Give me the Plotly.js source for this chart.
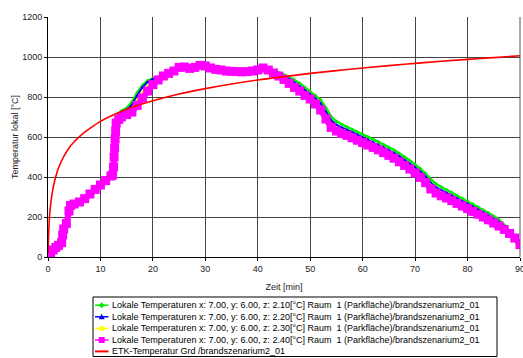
<!DOCTYPE html>
<html>
<head>
<meta charset="utf-8">
<script src="https://cdn.plot.ly/plotly-3.0.1.min.js"></script>
<style>html,body{margin:0;padding:0;background:#fff;}#chart{width:523px;height:358px;}</style>
</head>
<body>
<div id="chart"></div>
<script>
// ---- data ----
const zeit = [0,0.5,1,1.5,2,2.6,2.8,3,3.5,4,4.3,
  5,6,7,8,9,10,11,12,
  12.3,12.5,12.6,12.7,12.8,12.9,13,
  13.5,
  14,15,16,17,18,19,20,21,22,23,24,25,26,27,28,29,30,31,32,33,34,35,36,37,38,39,40,41,42,43,44,45,46,47,48,49,50,51,52,53,54,55,56,57,58,59,60,61,62,63,64,65,66,67,68,69,70,71,72,73,74,75,76,77,78,79,80,81,82,83,84,85,86,87,88,89,90];

const tempZ210 = [12,22,35,48,60,75,115,145,175,238,260,
  267,278,295,318,342,365,390,425,
  430,470,520,570,615,660,700,
  718,
  730,745,775,822,858,882,893,900,908,918,930,946,948,942,946,955,952,943,936,932,928,926,925,924,925,928,933,942,940,930,922,912,900,885,868,848,828,808,785,745,700,678,662,650,638,624,612,600,588,576,562,548,534,518,500,482,462,442,418,388,365,350,336,322,308,294,280,265,250,235,220,204,186,160,130,100,66];

const tempZ220 = [12,22,35,48,59,74,112,142,172,236,259,
  266,277,294,317,340,363,386,418,
  422,462,512,560,605,648,688,
  708,
  720,735,760,808,848,875,890,898,906,917,929,946,948,942,946,955,952,943,936,932,928,926,925,924,925,928,933,942,938,926,916,904,889,872,854,834,813,792,767,725,682,661,647,636,624,611,599,587,575,563,549,535,520,503,485,467,447,426,401,370,348,334,321,307,293,279,266,252,237,222,207,191,175,152,126,98,64];

const tempZ230 = [12,22,35,48,58,73,111,141,171,235,258,
  265,276,293,316,339,361,384,412,
  416,456,506,552,598,640,680,
  698,
  710,722,742,785,825,855,875,892,905,917,929,946,948,942,946,955,952,943,936,932,928,926,925,924,925,928,933,942,936,923,910,896,878,860,842,821,801,778,751,708,665,645,632,622,610,597,585,573,561,549,535,521,507,489,471,453,433,412,386,355,334,320,308,294,280,267,254,240,226,211,196,180,165,145,122,96,63];

const tempZ240 = [12,22,35,48,58,72,110,140,168,230,258,
  265,275,292,315,338,360,382,405,
  410,450,500,545,590,630,670,
  688,
  700,712,725,758,795,830,862,885,905,918,930,948,950,943,948,958,955,945,938,935,930,928,927,926,927,930,935,945,935,920,905,888,868,848,830,808,790,765,735,690,648,630,618,608,596,584,572,560,548,536,522,508,494,476,458,440,420,398,372,340,320,306,295,282,268,255,242,228,214,200,186,170,155,138,118,95,62];

const etkZeit = [0,0.25,0.5,1,1.5,2,3,4,5,6,7,8,10,12,15,20,25,30,35,40,45,50,55,60,65,70,75,80,85,90];
const etkTemp = [20,185,261,349,404,445,502,545,576,602,624,643,678,705,739,781,815,842,865,885,902,918,932,945,957,968,979,988,997,1006];

const xTicks = [0,10,20,30,40,50,60,70,80,90];
const yTicks = [0,200,400,600,800,1000,1200];

const legendLabels = [
  "Lokale Temperaturen x: 7.00, y: 6.00, z: 2.10[°C] Raum\u00a0 1 (Parkfläche)/brandszenarium2_01",
  "Lokale Temperaturen x: 7.00, y: 6.00, z: 2.20[°C] Raum\u00a0 1 (Parkfläche)/brandszenarium2_01",
  "Lokale Temperaturen x: 7.00, y: 6.00, z: 2.30[°C] Raum\u00a0 1 (Parkfläche)/brandszenarium2_01",
  "Lokale Temperaturen x: 7.00, y: 6.00, z: 2.40[°C] Raum\u00a0 1 (Parkfläche)/brandszenarium2_01",
  "ETK-Temperatur Grd /brandszenarium2_01"
];
const seriesColors = ["#00ee00","#0000ee","#ffff00","#ff00ff","#ff0000"];
const legendSymbols = ["diamond","triangle","circle","square","none"];

// ---- traces ----
const traces = [
  {x: zeit, y: tempZ210, mode: "lines+markers", line:{color:seriesColors[0], width:2.5}, marker:{color:seriesColors[0], size:3, symbol:"diamond"}},
  {x: zeit, y: tempZ220, mode: "lines+markers", line:{color:seriesColors[1], width:2}, marker:{color:seriesColors[1], size:3, symbol:"triangle-up"}},
  {x: zeit, y: tempZ230, mode: "lines+markers", line:{color:seriesColors[2], width:2}, marker:{color:seriesColors[2], size:3, symbol:"circle"}},
  {x: zeit, y: tempZ240, mode: "lines+markers", line:{color:seriesColors[3], width:6}, marker:{color:seriesColors[3], size:9, symbol:"square"}},
  {x: etkZeit, y: etkTemp, mode: "lines", line:{color:seriesColors[4], width:1.6, shape:"spline"}}
];

// ---- manual compact legend (layout) ----
// plot area: x 48..520 px, y 17..257 px
const L = 48, R = 520, T = 17, B = 257;
const px2x = p => (p - L) / (R - L);
const px2y = p => (B - p) / (B - T);
const shapes = [];
const annotations = [];
shapes.push({type:"rect", xref:"paper", yref:"paper", x0:px2x(93), x1:px2x(497), y0:px2y(297), y1:px2y(356.5), line:{color:"#000", width:1}, fillcolor:"rgba(0,0,0,0)"});
const rowY = [305.2, 316.8, 328.4, 340.0, 351.4];
legendLabels.forEach((lab, i) => {
  const yy = px2y(rowY[i]);
  shapes.push({type:"line", xref:"paper", yref:"paper", x0:px2x(95), x1:px2x(108.5), y0:yy, y1:yy, line:{color:seriesColors[i], width: i===4 ? 2 : 1.5}});
  const xa = px2x(101.7);
  const sym = legendSymbols[i];
  if (sym === "square") {
    shapes.push({type:"rect", xref:"paper", yref:"paper", xsizemode:"pixel", ysizemode:"pixel", xanchor:xa, yanchor:yy, x0:-3, x1:3, y0:-3, y1:3, fillcolor:seriesColors[i], line:{width:0}});
  } else if (sym === "circle") {
    shapes.push({type:"circle", xref:"paper", yref:"paper", xsizemode:"pixel", ysizemode:"pixel", xanchor:xa, yanchor:yy, x0:-2.5, x1:2.5, y0:-2.5, y1:2.5, fillcolor:seriesColors[i], line:{width:0}});
  } else if (sym === "triangle") {
    shapes.push({type:"path", xref:"paper", yref:"paper", xsizemode:"pixel", ysizemode:"pixel", xanchor:xa, yanchor:yy, path:"M -3 -2.5 L 3 -2.5 L 0 3 Z", fillcolor:seriesColors[i], line:{width:0}});
  } else if (sym === "diamond") {
    shapes.push({type:"path", xref:"paper", yref:"paper", xsizemode:"pixel", ysizemode:"pixel", xanchor:xa, yanchor:yy, path:"M -3 0 L 0 3 L 3 0 L 0 -3 Z", fillcolor:seriesColors[i], line:{width:0}});
  }
  annotations.push({xref:"paper", yref:"paper", x:px2x(109.5), y:yy, xanchor:"left", yanchor:"middle", showarrow:false, text:lab, font:{family:"Liberation Sans, Arial, sans-serif", size:9, color:"#000"}});
});

const axisFont = {family:"Liberation Sans, Arial, sans-serif", size:9, color:"#222"};
const layout = {
  width:523, height:358,
  margin:{l:48, r:3, t:17, b:101, pad:0},
  paper_bgcolor:"#fff", plot_bgcolor:"#fff",
  showlegend:false,
  font: axisFont,
  xaxis:{
    range:[0,90], tickvals:xTicks, ticktext:xTicks.map(String),
    showgrid:true, gridcolor:"#444", gridwidth:1,
    zeroline:false, showline:true, linecolor:"#000", linewidth:1,
    ticks:"outside", ticklen:3, tickcolor:"#000",
    tickfont:axisFont, ticklabeloverflow:"allow",
    title:{text:"Zeit [min]", font:axisFont, standoff:10}
  },
  yaxis:{
    range:[0,1200], tickvals:yTicks, ticktext:yTicks.map(String),
    showgrid:true, gridcolor:"#444", gridwidth:1,
    zeroline:false, showline:true, linecolor:"#000", linewidth:1,
    ticks:"outside", ticklen:3, tickcolor:"#000",
    tickfont:axisFont,
    title:{text:"Temperatur lokal [°C]", font:axisFont, standoff:2}
  },
  shapes: shapes.concat([
    {type:"line", xref:"paper", yref:"paper", x0:1, x1:1, y0:0, y1:1, line:{color:"#555", width:1}}
  ]),
  annotations: annotations
};

Plotly.newPlot("chart", traces, layout, {staticPlot:true, displayModeBar:false});
</script>
</body>
</html>
